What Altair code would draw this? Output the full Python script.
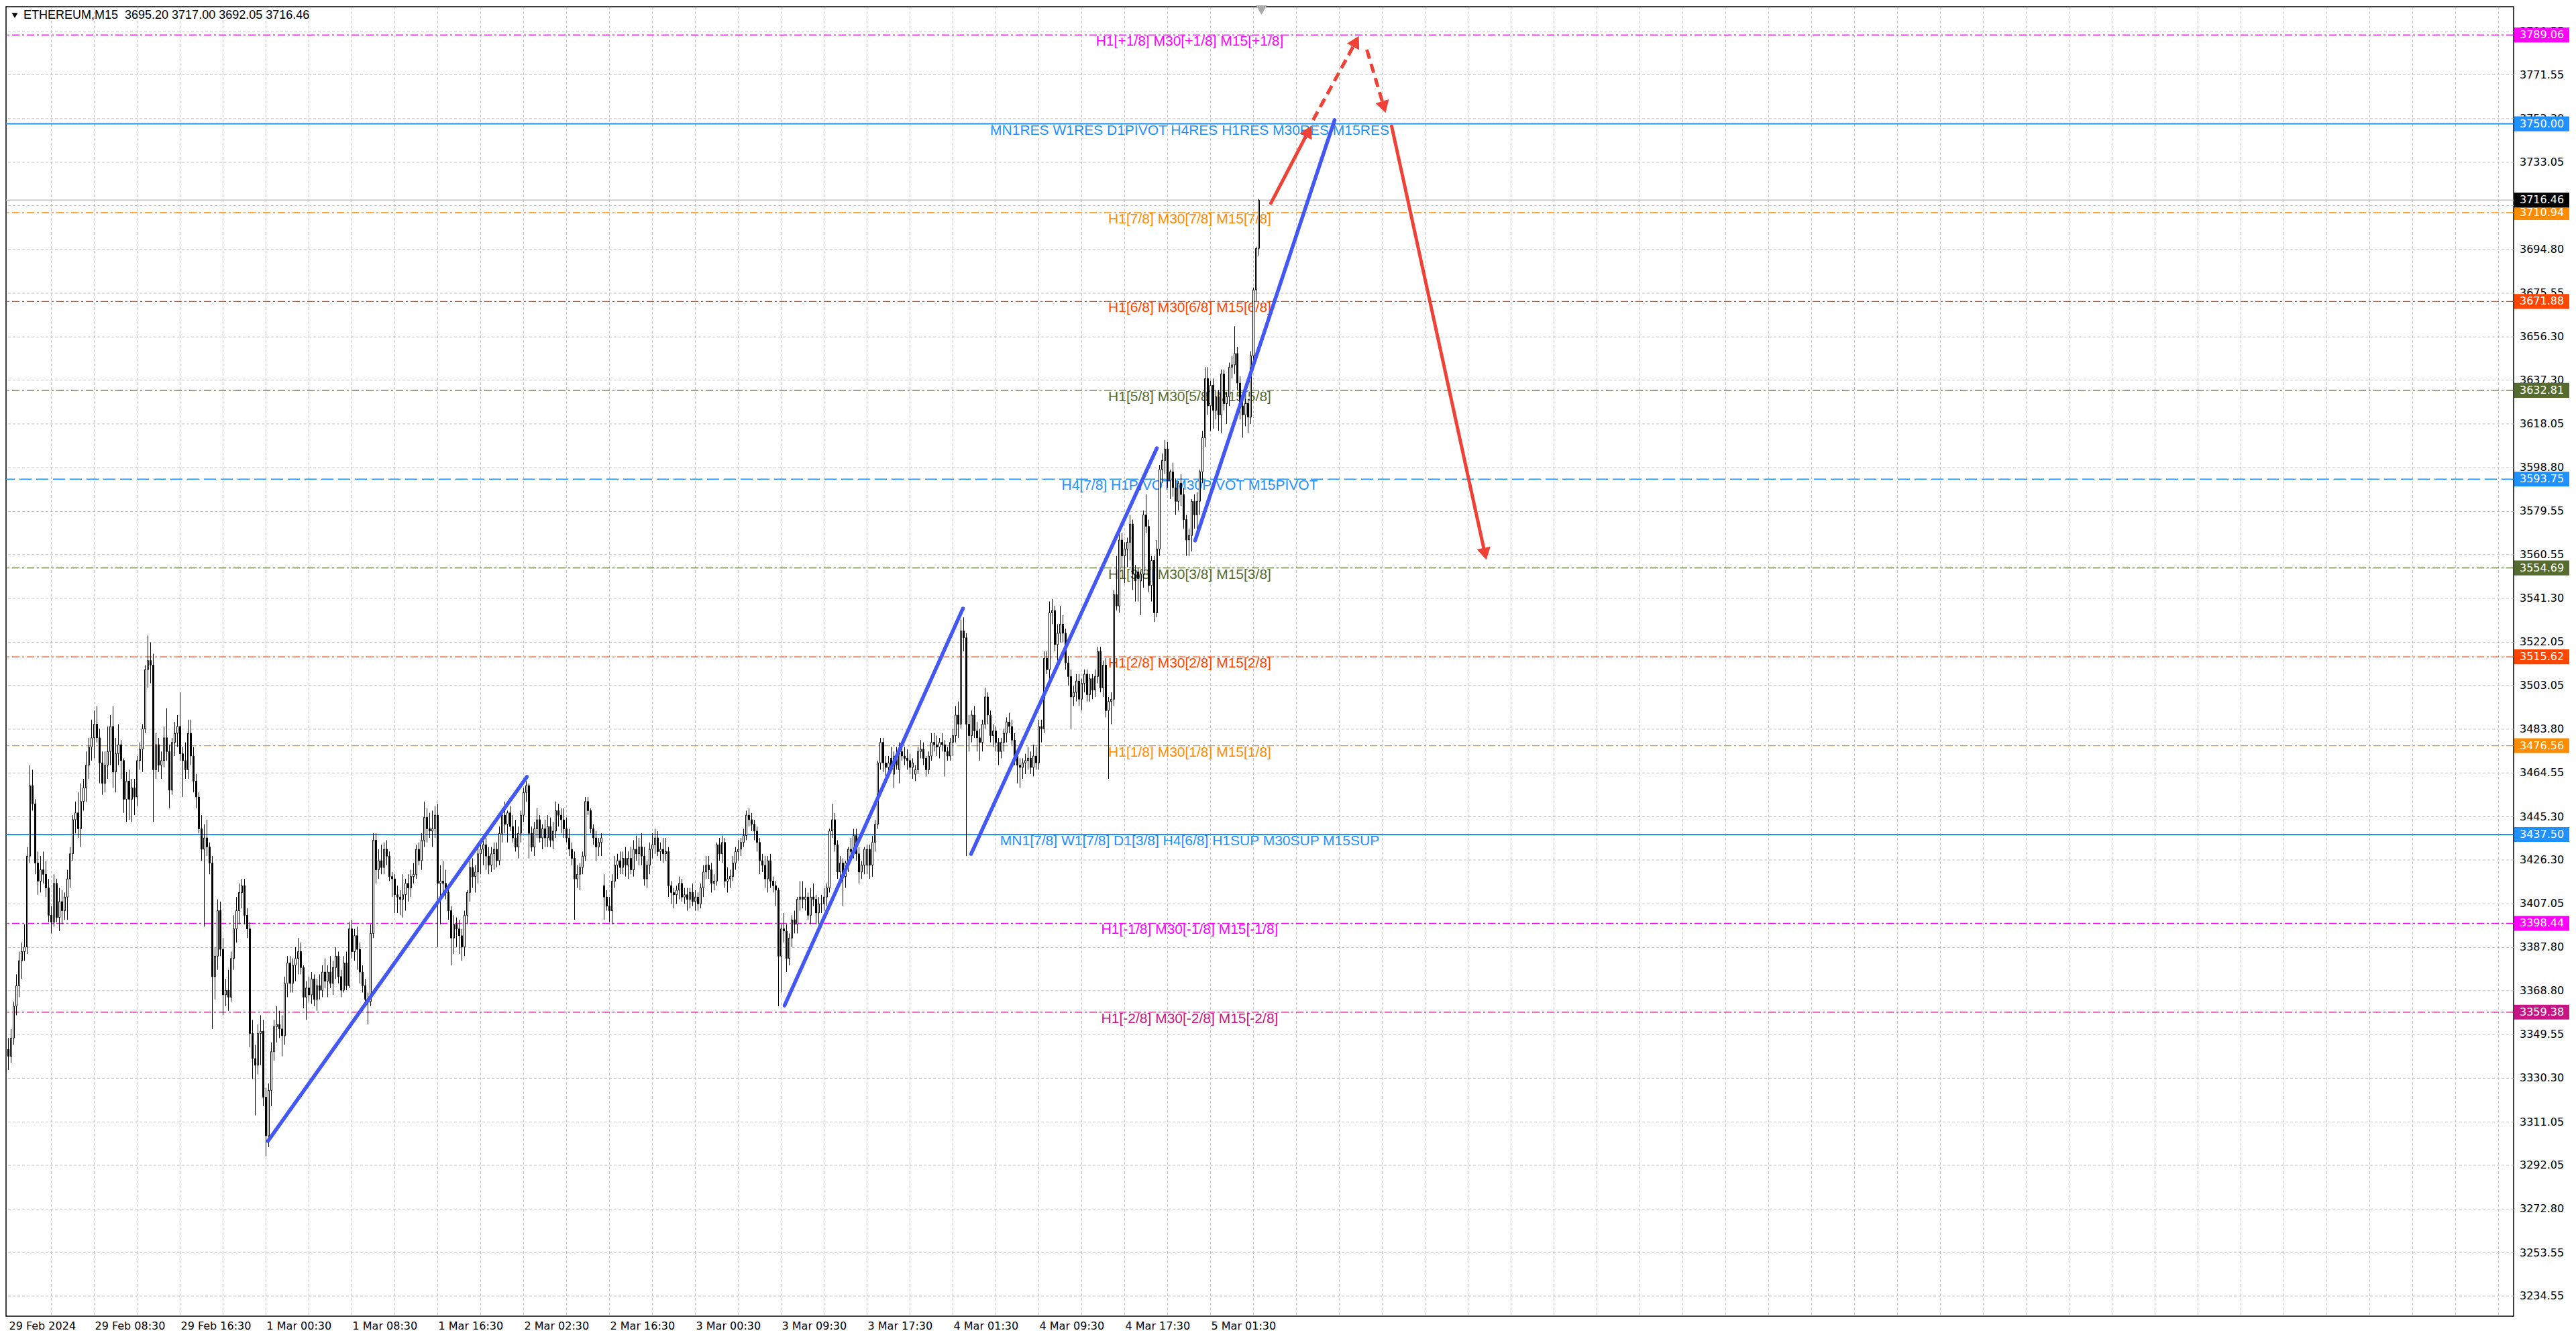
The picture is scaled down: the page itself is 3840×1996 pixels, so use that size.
import math
import altair as alt
import pandas as pd

# ---------------- data ----------------
OPEN = [
3343,3340,3348,3362,3371,3382,3386,3388,3428,3459,
3451,3425,3417,3422,3420,3414,3402,3399,3416,3401,
3408,3404,3410,3418,3429,3444,3447,3440,3452,3458,
3468,3476,3480,3486,3480,3469,3460,3468,3474,3485,
3465,3473,3477,3470,3453,3461,3453,3458,3454,3470,
3475,3484,3510,3514,3512,3466,3477,3468,3470,3480,
3474,3457,3478,3482,3485,3473,3470,3466,3482,3472,
3461,3454,3440,3431,3436,3432,3425,3375,3384,3404,
3387,3367,3369,3366,3383,3396,3404,3412,3415,3402,
3396,3350,3339,3336,3350,3351,3322,3305,3325,3342,
3353,3354,3352,3349,3372,3381,3372,3380,3383,3386,
3379,3366,3370,3367,3374,3365,3371,3369,3377,3373,
3377,3372,3379,3384,3375,3369,3381,3371,3396,3386,
3393,3387,3377,3371,3365,3364,3394,3435,3422,3426,
3423,3431,3428,3419,3418,3411,3410,3409,3411,3416,
3414,3419,3420,3431,3426,3435,3445,3440,3439,3440,
3446,3416,3417,3416,3412,3404,3392,3398,3396,3393,
3388,3402,3412,3423,3419,3421,3429,3431,3433,3428,
3424,3429,3431,3426,3438,3446,3442,3447,3441,3436,
3432,3438,3446,3456,3459,3438,3432,3440,3444,3436,
3440,3436,3441,3435,3439,3448,3446,3444,3440,3436,
3431,3427,3418,3420,3423,3428,3452,3448,3440,3436,
3432,3434,3415,3410,3406,3404,3417,3424,3426,3423,
3427,3424,3427,3422,3431,3429,3432,3428,3418,3424,
3431,3433,3436,3430,3431,3429,3430,3415,3412,3411,
3413,3416,3410,3411,3409,3412,3408,3410,3407,3414,
3421,3424,3422,3416,3417,3433,3429,3434,3417,3418,
3419,3425,3430,3431,3434,3437,3446,3444,3442,3439,
3434,3426,3424,3418,3426,3417,3415,3413,3384,3396,
3395,3383,3392,3400,3398,3409,3410,3409,3410,3402,
3410,3409,3403,3407,3407,3410,3414,3439,3444,3433,
3421,3425,3419,3425,3431,3430,3437,3429,3421,3424,
3424,3431,3424,3434,3442,3469,3478,3469,3467,3471,
3464,3472,3466,3474,3472,3471,3470,3467,3464,3466,
3474,3475,3471,3466,3472,3478,3477,3476,3478,3477,
3474,3472,3478,3481,3490,3486,3527,3524,3486,3481,
3490,3483,3480,3478,3486,3498,3490,3481,3483,3478,
3474,3478,3482,3487,3485,3479,3472,3468,3467,3469,
3470,3471,3467,3472,3469,3485,3484,3515,3510,3535,
3536,3521,3526,3530,3526,3513,3507,3498,3500,3505,
3497,3504,3508,3499,3506,3501,3507,3518,3502,3512,
3492,3496,3497,3543,3538,3567,3560,3563,3566,3574,
3552,3553,3549,3552,3578,3573,3547,3558,3535,3563,
3598,3602,3607,3593,3597,3590,3584,3592,3587,3576,
3567,3569,3584,3578,3584,3597,3612,3638,3626,3635,
3624,3630,3622,3640,3627,3630,3643,3644,3649,3636,
3626,3622,3627,3621,3648,3677,3695.20]

HIGH = [
3348,3352,3364,3376,3386,3390,3398,3432,3468,3466,
3453,3430,3428,3430,3426,3418,3406,3420,3418,3414,
3413,3412,3422,3432,3446,3452,3456,3460,3462,3474,
3480,3488,3492,3494,3484,3474,3474,3485,3490,3494,
3480,3486,3479,3471,3465,3466,3462,3462,3472,3478,
3486,3512,3525,3522,3517,3482,3480,3474,3485,3493,
3477,3480,3487,3490,3500,3476,3478,3488,3488,3476,
3464,3456,3446,3442,3444,3434,3428,3388,3409,3408,
3392,3374,3378,3386,3402,3410,3416,3418,3418,3405,
3399,3356,3345,3354,3358,3356,3326,3328,3346,3356,
3362,3360,3358,3375,3384,3384,3383,3388,3392,3390,
3380,3373,3375,3377,3376,3374,3376,3380,3383,3380,
3384,3382,3388,3386,3378,3384,3386,3399,3400,3396,
3397,3390,3380,3374,3368,3398,3438,3438,3431,3433,
3434,3435,3430,3421,3420,3415,3413,3420,3418,3420,
3422,3425,3433,3434,3438,3452,3449,3447,3448,3450,
3451,3424,3426,3422,3414,3406,3402,3401,3400,3396,
3404,3413,3426,3427,3424,3432,3435,3436,3436,3432,
3432,3434,3434,3441,3449,3452,3448,3450,3446,3444,
3441,3448,3458,3461,3460,3441,3443,3449,3446,3442,
3444,3446,3445,3443,3452,3451,3449,3449,3445,3440,
3434,3430,3424,3425,3430,3454,3454,3449,3442,3439,
3436,3438,3420,3413,3410,3420,3428,3429,3430,3430,
3432,3430,3432,3435,3437,3436,3438,3432,3426,3434,
3438,3440,3439,3434,3436,3436,3432,3417,3414,3415,
3419,3418,3414,3414,3414,3416,3413,3412,3416,3424,
3428,3428,3425,3420,3434,3436,3437,3436,3423,3422,
3428,3432,3435,3436,3440,3448,3449,3447,3444,3441,
3436,3429,3428,3428,3429,3419,3417,3414,3398,3403,
3398,3394,3402,3404,3410,3417,3417,3414,3412,3414,
3416,3411,3410,3411,3414,3416,3440,3451,3447,3435,
3428,3427,3426,3432,3436,3440,3440,3432,3426,3432,
3433,3433,3437,3444,3470,3480,3480,3472,3472,3476,
3474,3476,3478,3477,3476,3475,3473,3471,3468,3476,
3479,3478,3472,3474,3482,3482,3481,3480,3482,3479,
3476,3480,3484,3494,3496,3532,3533,3526,3490,3492,
3494,3487,3484,3488,3502,3500,3492,3486,3485,3480,
3480,3484,3489,3491,3488,3482,3474,3471,3471,3473,
3476,3474,3477,3476,3488,3488,3518,3518,3540,3541,
3538,3530,3538,3534,3528,3516,3510,3503,3508,3508,
3506,3510,3510,3508,3508,3510,3520,3520,3514,3515,
3498,3500,3545,3560,3570,3570,3566,3568,3578,3576,
3556,3555,3553,3580,3587,3576,3560,3560,3567,3600,
3605,3611,3610,3598,3601,3594,3593,3596,3590,3578,
3572,3585,3587,3588,3598,3615,3643,3643,3637,3638,
3633,3633,3642,3642,3632,3645,3648,3661,3652,3639,
3629,3629,3629,3650,3678,3696,3717.00]

LOW = [
3334,3337,3345,3358,3366,3374,3382,3385,3425,3448,
3420,3411,3412,3416,3410,3399,3394,3397,3399,3395,
3398,3400,3400,3414,3426,3438,3436,3432,3448,3452,
3462,3470,3471,3478,3460,3455,3456,3462,3468,3458,
3456,3468,3462,3447,3443,3444,3443,3446,3450,3466,
3465,3482,3502,3504,3443,3462,3465,3462,3467,3470,
3449,3455,3472,3476,3470,3454,3462,3462,3468,3456,
3449,3438,3426,3397,3428,3420,3352,3365,3378,3384,
3358,3362,3360,3364,3378,3390,3398,3405,3398,3392,
3344,3330,3314,3332,3336,3318,3296,3300,3318,3338,
3346,3348,3340,3345,3366,3368,3368,3373,3376,3376,
3361,3356,3364,3363,3362,3360,3365,3366,3370,3366,
3370,3367,3374,3372,3366,3368,3369,3370,3383,3382,
3378,3372,3368,3362,3354,3362,3392,3416,3418,3420,
3420,3424,3417,3410,3403,3403,3402,3401,3404,3408,
3410,3416,3418,3424,3422,3432,3434,3436,3432,3436,
3388,3398,3410,3409,3400,3380,3385,3388,3385,3382,
3384,3398,3408,3414,3412,3416,3420,3424,3422,3420,
3421,3422,3423,3424,3434,3438,3434,3439,3434,3430,
3427,3434,3443,3452,3427,3430,3428,3436,3434,3431,
3432,3432,3432,3431,3436,3441,3438,3436,3434,3428,
3424,3400,3414,3413,3420,3426,3446,3438,3433,3426,
3428,3428,3400,3404,3399,3398,3414,3418,3420,3420,
3419,3418,3420,3419,3426,3424,3424,3415,3414,3420,
3427,3429,3428,3426,3425,3426,3410,3407,3405,3407,
3409,3408,3407,3404,3405,3406,3404,3404,3405,3410,
3418,3418,3412,3413,3415,3426,3425,3414,3412,3414,
3417,3422,3426,3428,3432,3435,3441,3439,3435,3430,
3420,3421,3414,3412,3414,3412,3406,3362,3368,3390,
3377,3380,3388,3394,3394,3404,3405,3404,3400,3398,
3406,3398,3398,3403,3404,3406,3412,3436,3430,3418,
3416,3406,3414,3421,3426,3427,3426,3416,3418,3420,
3420,3418,3419,3430,3440,3466,3465,3462,3463,3465,
3458,3466,3460,3470,3468,3466,3464,3462,3461,3464,
3471,3468,3463,3464,3470,3474,3472,3471,3474,3463,
3470,3470,3472,3478,3480,3484,3518,3428,3474,3478,
3480,3474,3470,3474,3484,3486,3478,3476,3474,3468,
3471,3474,3478,3482,3477,3468,3460,3458,3462,3464,
3466,3464,3463,3466,3466,3478,3482,3508,3506,3530,
3518,3514,3522,3522,3510,3503,3484,3494,3496,3494,
3492,3500,3496,3496,3497,3498,3504,3500,3498,3489,
3462,3486,3494,3536,3535,3555,3548,3555,3558,3545,
3540,3540,3534,3546,3570,3544,3540,3531,3533,3560,
3592,3596,3590,3585,3586,3578,3580,3582,3572,3560,
3560,3562,3572,3572,3578,3592,3608,3622,3615,3616,
3620,3615,3614,3624,3618,3626,3638,3640,3633,3620,
3612,3617,3614,3618,3645,3672,3692.05]

CLOSE = [
3340,3348,3362,3371,3382,3386,3388,3428,3459,3451,
3425,3417,3422,3420,3414,3402,3399,3416,3401,3408,
3404,3410,3418,3429,3444,3447,3440,3452,3458,3468,
3476,3480,3486,3480,3469,3460,3468,3474,3485,3465,
3473,3477,3470,3453,3461,3453,3458,3454,3470,3475,
3484,3510,3514,3512,3466,3477,3468,3470,3480,3474,
3457,3478,3482,3485,3473,3470,3466,3482,3472,3461,
3454,3440,3431,3436,3432,3425,3375,3384,3404,3387,
3367,3369,3366,3383,3396,3404,3412,3415,3402,3396,
3350,3339,3336,3350,3351,3322,3305,3325,3342,3353,
3354,3352,3349,3372,3381,3372,3380,3383,3386,3379,
3366,3370,3367,3374,3365,3371,3369,3377,3373,3377,
3372,3379,3384,3375,3369,3381,3371,3396,3386,3393,
3387,3377,3371,3365,3364,3394,3435,3422,3426,3423,
3431,3428,3419,3418,3411,3410,3409,3411,3416,3414,
3419,3420,3431,3426,3435,3445,3440,3439,3440,3446,
3416,3417,3416,3412,3404,3392,3398,3396,3393,3388,
3402,3412,3423,3419,3421,3429,3431,3433,3428,3424,
3429,3431,3426,3438,3446,3442,3447,3441,3436,3432,
3438,3446,3456,3459,3438,3432,3440,3444,3436,3440,
3436,3441,3435,3439,3448,3446,3444,3440,3436,3431,
3427,3418,3420,3423,3428,3452,3448,3440,3436,3432,
3434,3436,3410,3406,3404,3417,3424,3426,3423,3427,
3424,3427,3422,3431,3429,3432,3428,3418,3424,3431,
3433,3436,3430,3431,3429,3430,3415,3412,3411,3413,
3416,3410,3411,3409,3412,3408,3410,3407,3414,3421,
3424,3422,3416,3417,3433,3429,3434,3417,3418,3419,
3425,3430,3431,3434,3437,3446,3444,3442,3439,3434,
3426,3424,3418,3426,3417,3415,3413,3384,3396,3395,
3383,3392,3400,3398,3409,3410,3409,3410,3402,3410,
3409,3403,3407,3407,3410,3414,3439,3444,3433,3421,
3425,3419,3425,3431,3430,3437,3429,3421,3424,3431,
3431,3424,3434,3442,3469,3478,3469,3467,3469,3467,
3472,3468,3474,3472,3471,3470,3467,3469,3466,3474,
3475,3471,3466,3472,3478,3477,3476,3478,3477,3474,
3472,3478,3481,3490,3486,3527,3524,3486,3481,3490,
3483,3480,3478,3486,3498,3490,3481,3483,3478,3474,
3478,3482,3487,3485,3479,3472,3468,3467,3469,3470,
3471,3467,3472,3469,3485,3484,3515,3510,3535,3536,
3521,3526,3530,3526,3513,3507,3498,3500,3505,3497,
3504,3508,3499,3506,3501,3507,3518,3502,3512,3492,
3496,3497,3543,3538,3567,3560,3563,3566,3574,3552,
3549,3550,3552,3578,3573,3547,3558,3535,3563,3598,
3602,3607,3593,3597,3590,3584,3592,3587,3576,3567,
3569,3584,3578,3584,3597,3612,3638,3626,3635,3624,
3630,3622,3640,3627,3630,3643,3644,3649,3636,3626,
3622,3627,3621,3648,3677,3695.20,3716.46]

TIME_LABELS = ["29 Feb 2024", "29 Feb 08:30", "29 Feb 16:30", "1 Mar 00:30",
               "1 Mar 08:30", "1 Mar 16:30", "2 Mar 02:30", "2 Mar 16:30",
               "3 Mar 00:30", "3 Mar 09:30", "3 Mar 17:30", "4 Mar 01:30",
               "4 Mar 09:30", "4 Mar 17:30", "5 Mar 01:30"]
TIME_LABEL_BARS = [0, 32, 64, 96, 128, 160, 192, 224, 256, 288, 320, 352, 384, 416, 448]

PRICE_TICKS = [3790.55, 3771.55, 3752.30, 3733.05, 3714.05, 3694.80, 3675.55, 3656.30,
               3637.30, 3618.05, 3598.80, 3579.55, 3560.55, 3541.30, 3522.05, 3503.05,
               3483.80, 3464.55, 3445.30, 3426.30, 3407.05, 3387.80, 3368.80, 3349.55,
               3330.30, 3311.05, 3292.05, 3272.80, 3253.55, 3234.55]

LEVEL_PRICES = [3789.06, 3750.00, 3710.94, 3671.88, 3632.81, 3593.75,
                3554.69, 3515.62, 3476.56, 3437.50, 3398.44, 3359.38]
LEVEL_TEXT = ["H1[+1/8] M30[+1/8] M15[+1/8]",
              "MN1RES W1RES D1PIVOT H4RES H1RES M30RES M15RES",
              "H1[7/8] M30[7/8] M15[7/8]",
              "H1[6/8] M30[6/8] M15[6/8]",
              "H1[5/8] M30[5/8] M15[5/8]",
              "H4[7/8] H1PIVOT M30PIVOT M15PIVOT",
              "H1[3/8] M30[3/8] M15[3/8]",
              "H1[2/8] M30[2/8] M15[2/8]",
              "H1[1/8] M30[1/8] M15[1/8]",
              "MN1[7/8] W1[7/8] D1[3/8] H4[6/8] H1SUP M30SUP M15SUP",
              "H1[-1/8] M30[-1/8] M15[-1/8]",
              "H1[-2/8] M30[-2/8] M15[-2/8]"]
LEVEL_COLORS = ["#FF00FF", "#1E90FF", "#FF8C00", "#FF4500", "#556B2F", "#1E90FF",
                "#556B2F", "#FF4500", "#FF8C00", "#1E90FF", "#FF00FF", "#C71585"]
LEVEL_STYLE = ["dashdot", "solid", "dashdot", "dashdot", "dashdot", "dashed",
               "dashdot", "dashdot", "dashdot", "solid", "dashdot", "dashdot"]
LEVEL_LABEL_BAR = 440.25

BID = 3716.46
HEADER = "ETHEREUM,M15\u00a0\u00a03695.20 3717.00 3692.05 3716.46"
SHIFT_MARK_BAR = 467

# hand-drawn trend lines (bar index, price) start -> end
TREND_LINES = [(96.75, 3302.7, 193.25, 3462.9),
               (289.25, 3362.3, 355.75, 3536.9),
               (358.75, 3428.9, 428.0, 3607.4),
               (442.25, 3566.7, 494.25, 3751.7)]
RED_SOLID = [(470.5, 3715.1, 485.5, 3749.0),
             (515.5, 3749.0, 550.75, 3558.4)]
RED_DASHED = [(486.25, 3751.7, 503.25, 3788.5),
              (506.25, 3782.6, 513.25, 3754.9)]

# ---------------- layout ----------------
W, H = 3738, 1952
PX_PER_BAR = 4.0
PX_PER_PRICE = 3.39
X0 = -0.875
X1 = X0 + W / PX_PER_BAR
Y1 = 3801.5
Y0 = Y1 - H / PX_PER_PRICE

xs = alt.Scale(domain=[X0, X1], nice=False, zero=False)
ys = alt.Scale(domain=[Y0, Y1], nice=False, zero=False)


def X(f):
    return alt.X(f, type="quantitative", scale=xs, axis=None)


def Y(f):
    return alt.Y(f, type="quantitative", scale=ys, axis=None)


AXIS_FONT = "DejaVu Sans"
LABEL_FONT = "Liberation Sans"
BLUE = "#4257F5"
RED = "#EF4136"

candles = pd.DataFrame({"bar": list(range(len(OPEN))), "o": OPEN, "h": HIGH,
                        "l": LOW, "c": CLOSE})
levels = pd.DataFrame({"price": LEVEL_PRICES, "text": LEVEL_TEXT,
                       "col": LEVEL_COLORS, "style": LEVEL_STYLE,
                       "lbl": [f"{p:.2f}" for p in LEVEL_PRICES],
                       "lx": [LEVEL_LABEL_BAR] * len(LEVEL_PRICES)})
ticks = pd.DataFrame({"price": PRICE_TICKS, "lbl": [f"{p:.2f}" for p in PRICE_TICKS]})
vgrid = pd.DataFrame({"bar": list(range(16, int(X1), 16))})
tlabels = pd.DataFrame({"bar": TIME_LABEL_BARS, "lbl": TIME_LABELS})

# grid
grid_h = alt.Chart(ticks).mark_rule(color="#C4C4C4", strokeWidth=1, strokeDash=[4, 3]).encode(y=Y("price"))
grid_v = alt.Chart(vgrid).mark_rule(color="#C4C4C4", strokeWidth=1, strokeDash=[4, 3]).encode(x=X("bar"))

# level lines
lv_dd = alt.Chart(levels).transform_filter("datum.style == 'dashdot'").mark_rule(
    strokeWidth=1.3, strokeDash=[11, 4, 3, 4]).encode(y=Y("price"), color=alt.Color("col:N", scale=None))
lv_da = alt.Chart(levels).transform_filter("datum.style == 'dashed'").mark_rule(
    strokeWidth=1.5, strokeDash=[18, 7]).encode(y=Y("price"), color=alt.Color("col:N", scale=None))
lv_so = alt.Chart(levels).transform_filter("datum.style == 'solid'").mark_rule(
    strokeWidth=2).encode(y=Y("price"), color=alt.Color("col:N", scale=None))

bid_df = pd.DataFrame({"price": [BID], "lbl": [f"{BID:.2f}"]})
bid_line = alt.Chart(bid_df).mark_rule(color="#C0C0C0", strokeWidth=1.5).encode(y=Y("price"))

level_text = alt.Chart(levels).mark_text(font=LABEL_FONT, fontSize=21, align="center",
                                         baseline="top", dy=-1).encode(
    x=X("lx"), y=Y("price"), text="text:N", color=alt.Color("col:N", scale=None))

# candles
wicks = alt.Chart(candles).mark_rule(color="black", strokeWidth=1).encode(
    x=X("bar"), y=Y("l"), y2="h:Q")
bodies = alt.Chart(candles).transform_calculate(
    xa="datum.bar - 0.25", xb="datum.bar + 0.25").mark_rect(
    stroke="black", strokeWidth=1).encode(
    x=X("xa"), x2="xb:Q", y=Y("o"), y2="c:Q",
    fill=alt.condition("datum.c >= datum.o", alt.value("white"), alt.value("black")))

# trend lines
seg_rows = []
for k, (b1, p1, b2, p2) in enumerate(TREND_LINES):
    seg_rows += [{"seg": k, "bar": b1, "price": p1}, {"seg": k, "bar": b2, "price": p2}]
trend = alt.Chart(pd.DataFrame(seg_rows)).mark_line(
    color=BLUE, strokeWidth=5.5, strokeCap="round").encode(x=X("bar"), y=Y("price"), detail="seg:N")


def arrow_parts(b1, p1, b2, p2, back=8.7):
    dx = (b2 - b1) * PX_PER_BAR
    dy = -(p2 - p1) * PX_PER_PRICE
    ln = math.hypot(dx, dy)
    ux, uy = dx / ln, dy / ln
    cb = b2 - back * ux / PX_PER_BAR
    cp = p2 + back * uy / PX_PER_PRICE
    ang = math.degrees(math.atan2(dx, -dy)) % 360
    return cb, cp, ang


solid_rows, dashed_rows, head_rows = [], [], []
for k, (b1, p1, b2, p2) in enumerate(RED_SOLID):
    cb, cp, ang = arrow_parts(b1, p1, b2, p2)
    solid_rows += [{"seg": k, "bar": b1, "price": p1}, {"seg": k, "bar": cb, "price": cp}]
    head_rows.append({"bar": cb, "price": cp, "ang": ang})
for k, (b1, p1, b2, p2) in enumerate(RED_DASHED):
    cb, cp, ang = arrow_parts(b1, p1, b2, p2)
    dashed_rows += [{"seg": k, "bar": b1, "price": p1}, {"seg": k, "bar": cb, "price": cp}]
    head_rows.append({"bar": cb, "price": cp, "ang": ang})

red_solid = alt.Chart(pd.DataFrame(solid_rows)).mark_line(
    color=RED, strokeWidth=5, strokeCap="round").encode(x=X("bar"), y=Y("price"), detail="seg:N")
red_dashed = alt.Chart(pd.DataFrame(dashed_rows)).mark_line(
    color=RED, strokeWidth=5, strokeDash=[14, 8]).encode(x=X("bar"), y=Y("price"), detail="seg:N")
red_heads = alt.Chart(pd.DataFrame(head_rows)).mark_point(
    shape="triangle-up", filled=True, size=430, color=RED, opacity=1).encode(
    x=X("bar"), y=Y("price"), angle=alt.Angle("ang:Q", scale=None))

# right price scale
tick_text = alt.Chart(ticks).mark_text(font=AXIS_FONT, fontSize=16, align="left",
                                       baseline="middle", color="black").encode(
    x=alt.value(W + 9), y=Y("price"), text="lbl:N")
BOX = "M-1,-0.27L1,-0.27L1,0.27L-1,0.27Z"
level_box = alt.Chart(levels).mark_point(shape=BOX, size=82 * 82, filled=True, opacity=1,
                                         strokeWidth=0).encode(
    x=alt.value(W + 42), y=Y("price"), fill=alt.Fill("col:N", scale=None))
level_box_text = alt.Chart(levels).mark_text(font=AXIS_FONT, fontSize=16, align="left",
                                             baseline="middle", color="white").encode(
    x=alt.value(W + 9), y=Y("price"), text="lbl:N")
bid_box = alt.Chart(bid_df).mark_point(shape=BOX, size=82 * 82, filled=True, opacity=1,
                                       strokeWidth=0, color="black").encode(
    x=alt.value(W + 42), y=Y("price"))
bid_text = alt.Chart(bid_df).mark_text(font=AXIS_FONT, fontSize=16, align="left",
                                       baseline="middle", color="white").encode(
    x=alt.value(W + 9), y=Y("price"), text="lbl:N")

# bottom time scale
time_text = alt.Chart(tlabels).mark_text(font=AXIS_FONT, fontSize=16, align="left",
                                         baseline="top", dx=1, color="black").encode(
    x=X("bar"), y=alt.value(H + 7), text="lbl:N")

# header
hdr = pd.DataFrame({"t": [HEADER]})
header_text = alt.Chart(hdr).mark_text(font=LABEL_FONT, fontSize=18, align="left",
                                       baseline="middle", color="black").encode(
    x=alt.value(26), y=alt.value(13), text="t:N")
header_tri = alt.Chart(hdr).mark_point(shape="triangle-down", filled=True, size=80,
                                       color="black", opacity=1).encode(
    x=alt.value(13), y=alt.value(13))
shift_tri = alt.Chart(pd.DataFrame({"bar": [SHIFT_MARK_BAR]})).mark_point(
    shape="triangle-down", filled=True, size=260, color="#A8A8A8", opacity=1).encode(
    x=X("bar"), y=alt.value(5))

chart = alt.layer(
    grid_h, grid_v, lv_dd, lv_da, lv_so, bid_line, level_text,
    wicks, bodies, trend, red_solid, red_dashed, red_heads,
    tick_text, level_box, level_box_text, bid_box, bid_text,
    time_text, header_tri, header_text, shift_tri
).properties(
    width=W, height=H, padding={"left": 0, "top": 0, "right": 2, "bottom": 2},
    background="white"
).configure_view(stroke="black", strokeWidth=1.5)

chart.save("out.html", embed_options={"renderer": "svg", "actions": False})
